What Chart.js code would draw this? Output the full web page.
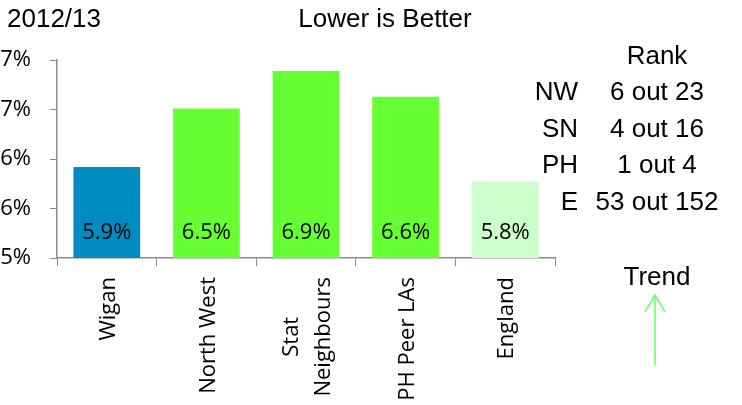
<!DOCTYPE html>
<html>
<head>
<meta charset="utf-8">
<script src="https://cdn.jsdelivr.net/npm/chart.js@4"></script>
<style>
  html, body { margin: 0; padding: 0; background: #fff; }
  #wrap { width: 742px; height: 405px; position: relative; }
</style>
</head>
<body>
<div id="wrap"><canvas id="rate-bars" width="742" height="405"></canvas></div>
<script>
// values (bar heights; labels show 1 dp)
const categories = ['Wigan', 'North West', ['Stat', 'Neighbours'], 'PH Peer LAs', 'England'];
const rates = [5.92, 6.51, 6.89, 6.63, 5.77];
const barColours = ['#008cc0', '#66ff33', '#66ff33', '#66ff33', '#ccffcc'];
const rankLabels = ['NW', 'SN', 'PH', 'E'];
const rankValues = ['6 out 23', '4 out 16', '1 out 4', '53 out 152'];
const yTicks = [5.0, 5.5, 6.0, 6.5, 7.0];

const axisGrey = '#8c8c8c';
const labelFont = '"Open Sans", sans-serif';
const headFont = '"Liberation Sans", Arial, sans-serif';

// text, labels in bars, rank table, trend arrow
const extras = {
    id: 'extras',
    afterDraw(chart) {
        const ctx = chart.ctx;
        const xs = chart.scales.x;
        ctx.save();
        ctx.fillStyle = '#000';

        // headings
        ctx.font = '26px ' + headFont;
        ctx.textBaseline = 'middle';
        ctx.textAlign = 'left';
        ctx.fillText('2012/13', 7, 20);
        ctx.textAlign = 'center';
        ctx.fillText('Lower is Better', 385, 20);

        // value labels inside bars
        ctx.font = '22px ' + labelFont;
        const meta = chart.getDatasetMeta(0);
        meta.data.forEach((bar, i) => {
            ctx.fillText(rates[i].toFixed(1) + '%', bar.x, 233);
        });

        // category labels, rotated, long line ending near axis
        categories.forEach((lab, i) => {
            const lines = Array.isArray(lab) ? lab : [lab];
            let w = 0;
            lines.forEach(l => { w = Math.max(w, ctx.measureText(l).width); });
            const x = xs.getPixelForValue(i);
            ctx.save();
            ctx.translate(x, 277 + w / 2);
            ctx.rotate(-Math.PI / 2);
            ctx.textAlign = 'center';
            ctx.textBaseline = 'middle';
            lines.forEach((l, k) => {
                ctx.fillText(l, 0, (k - (lines.length - 1) / 2) * 32 + 2);
            });
            ctx.restore();
        });

        // rank table
        ctx.font = '26px ' + headFont;
        ctx.textBaseline = 'middle';
        ctx.textAlign = 'center';
        ctx.fillText('Rank', 657, 57);
        rankLabels.forEach((r, i) => {
            const y = 93 + i * 36.6;
            ctx.textAlign = 'right';
            ctx.fillText(r, 578, y);
            ctx.textAlign = 'center';
            ctx.fillText(rankValues[i], 657, y);
        });
        ctx.fillText('Trend', 657, 278);

        // trend arrow
        ctx.strokeStyle = '#66ff66';
        ctx.lineWidth = 1.5;
        ctx.beginPath();
        ctx.moveTo(655, 365);
        ctx.lineTo(655, 295);
        ctx.moveTo(645, 312);
        ctx.lineTo(655, 295);
        ctx.lineTo(665, 312);
        ctx.stroke();

        ctx.restore();
    }
};

new Chart(document.getElementById('rate-bars'), {
    type: 'bar',
    data: {
        labels: categories,
        datasets: [{
            data: rates,
            backgroundColor: barColours,
            barPercentage: 0.67,
            categoryPercentage: 1.0
        }]
    },
    options: {
        responsive: false,
        animation: false,
        layout: { padding: { left: 0, right: 187, top: 60, bottom: 0 } },
        plugins: {
            legend: { display: false },
            tooltip: { enabled: false }
        },
        scales: {
            x: {
                offset: true,
                grid: { drawOnChartArea: false, color: axisGrey, tickLength: 8, offset: true },
                border: { color: axisGrey, width: 1.5 },
                ticks: { display: false },
                afterFit(scale) { scale.height = 405 - 258; }
            },
            y: {
                min: 5.0,
                max: 7.0,
                afterBuildTicks(scale) { scale.ticks = yTicks.map(v => ({ value: v })); },
                grid: { drawOnChartArea: false, color: axisGrey, tickLength: 7 },
                border: { color: axisGrey, width: 1.5 },
                ticks: {
                    color: '#000',
                    padding: 19,
                    font: { family: 'Open Sans', size: 22 },
                    callback: v => Math.round(v) + '%'
                },
                afterFit(scale) { scale.width = 57; }
            }
        }
    },
    plugins: [extras]
});
</script>
</body>
</html>
